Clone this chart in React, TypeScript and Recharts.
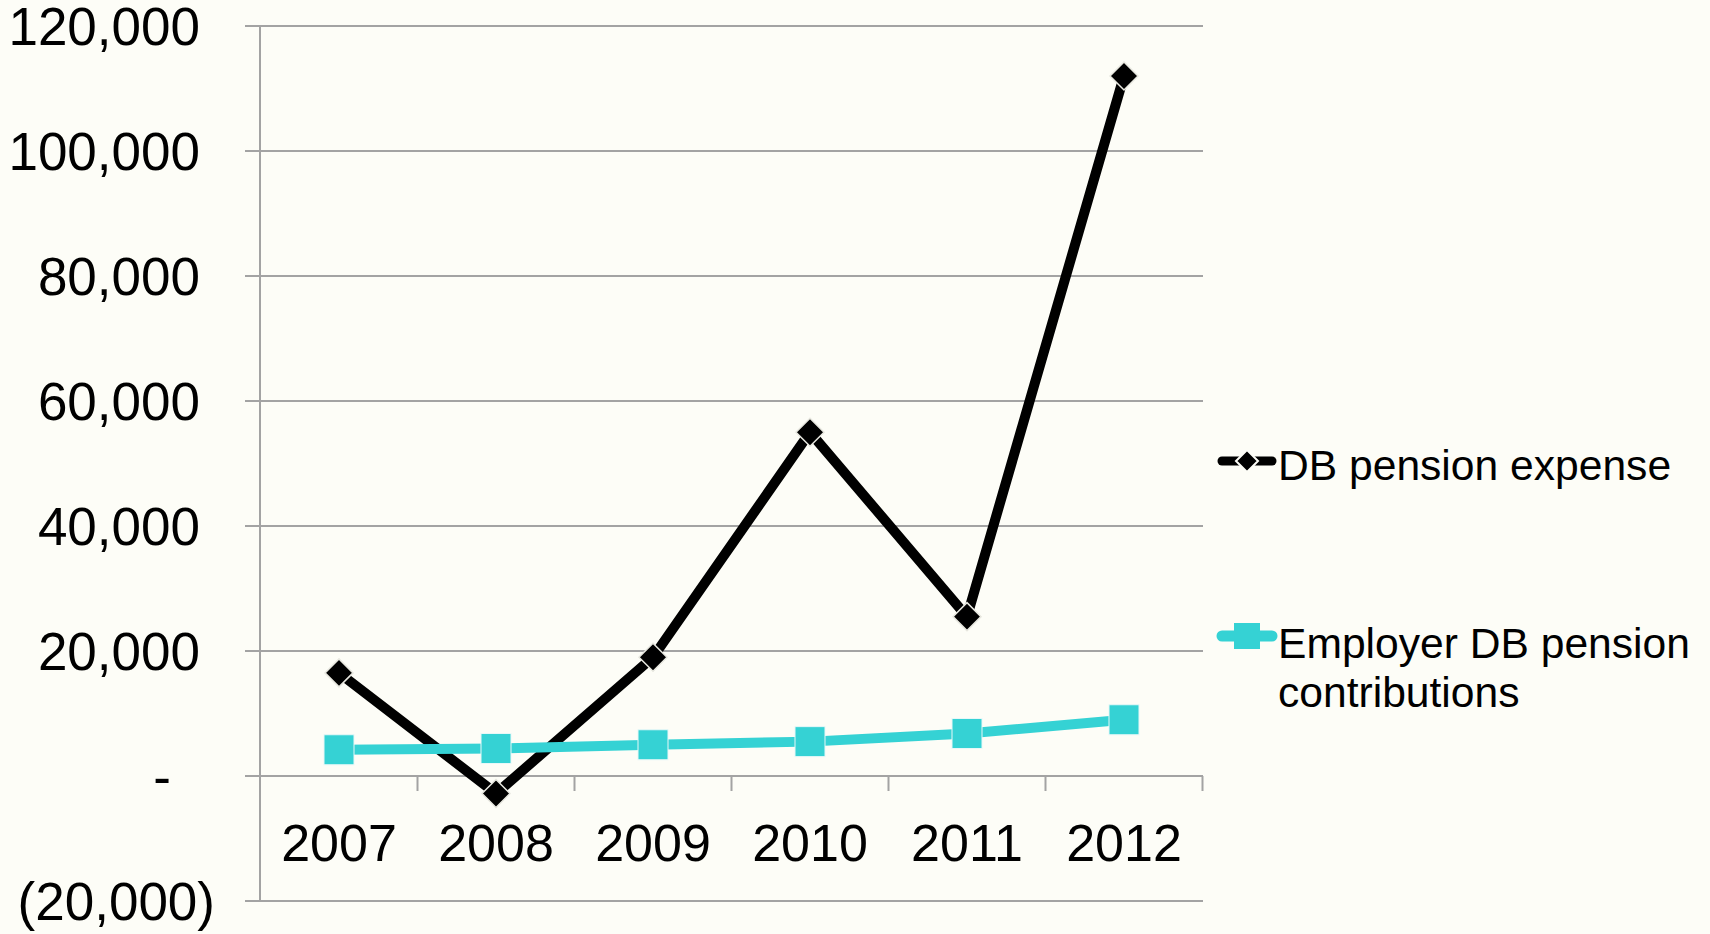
import {
  LineChart,
  Line,
  XAxis,
  YAxis,
  CartesianGrid,
  Legend,
  ReferenceLine,
} from "recharts";

const years = ["2007", "2008", "2009", "2010", "2011", "2012"];
const dbPensionExpense = [16500, -2800, 19000, 55000, 25500, 112000];
const employerContributions = [4200, 4400, 5000, 5500, 6800, 9000];
const yTicks = [-20000, 0, 20000, 40000, 60000, 80000, 100000, 120000];
// right-hand edge of each category slot, where the small tick marks hang under the zero line
const boundaryTicks = years.map((_, i) => i + 0.5);

const FONT = '"Liberation Sans", Arial, sans-serif';
const GRID = "#a3a3a3";
const CYAN = "#35d2d4";
const PAD = 79; // half a category slot

const data = years.map((year, i) => ({
  year,
  idx: i,
  expense: dbPensionExpense[i],
  contrib: employerContributions[i],
}));

// accounting style labels: 120,000 / - / (20,000)
function YTick({ x, y, payload }: any) {
  const v = payload.value as number;
  let label = v.toLocaleString("en-US");
  let dx = 0;
  if (v === 0) {
    label = "-";
    dx = -29;
  } else if (v < 0) {
    label = `(${Math.abs(v).toLocaleString("en-US")})`;
    dx = 15;
  }
  return (
    <text x={x + dx} y={y} dy={19} textAnchor="end" fontSize={53} fill="#000" fontFamily={FONT}>
      {label}
    </text>
  );
}

function XTick({ x, y, payload }: any) {
  return (
    <text x={x} y={y - 40} textAnchor="middle" fontSize={52} fill="#000" fontFamily={FONT}>
      {payload.value}
    </text>
  );
}

function Diamond({ cx, cy, index }: any) {
  if (cx == null || cy == null) return null;
  const r = 14;
  return (
    <path
      key={`dia-${index}`}
      d={`M${cx},${cy - r} L${cx + r},${cy} L${cx},${cy + r} L${cx - r},${cy} Z`}
      fill="#000"
      stroke="#e8e8e0"
      strokeWidth={1.5}
    />
  );
}

function Square({ cx, cy, index }: any) {
  if (cx == null || cy == null) return null;
  const s = 30;
  return (
    <rect
      key={`sq-${index}`}
      x={cx - s / 2}
      y={cy - s / 2}
      width={s}
      height={s}
      fill={CYAN}
      stroke="#e8f8f8"
      strokeWidth={1}
    />
  );
}

function LegendContent() {
  return (
    <div style={{ fontFamily: FONT, fontSize: 42.6, color: "#000", lineHeight: "49px" }}>
      <div style={{ display: "flex" }}>
        <svg width={64} height={49}>
          <line x1={8} y1={20} x2={58} y2={20} stroke="#000" strokeWidth={9} strokeLinecap="round" />
          <path d="M33,9 L44,20 L33,31 L22,20 Z" fill="#000" stroke="#fdfdf7" strokeWidth={2} />
        </svg>
        <div>DB pension expense</div>
      </div>
      <div style={{ display: "flex", marginTop: 129 }}>
        <svg width={64} height={49}>
          <line x1={8} y1={17} x2={58} y2={17} stroke={CYAN} strokeWidth={11} strokeLinecap="round" />
          <rect x={20} y={4} width={26} height={26} fill={CYAN} />
        </svg>
        <div>
          Employer DB pension
          <br />
          contributions
        </div>
      </div>
    </div>
  );
}

export default function App() {
  return (
    <div
      style={{
        position: "fixed",
        left: 0,
        top: 0,
        width: 1710,
        height: 934,
        background: "#fdfdf7",
      }}
    >
      <LineChart
        width={1710}
        height={934}
        data={data}
        margin={{ top: 26, right: 17, bottom: 32, left: 0 }}
      >
        <CartesianGrid vertical={false} stroke={GRID} strokeWidth={2} />
        <XAxis
          dataKey="year"
          height={1}
          padding={{ left: PAD, right: PAD }}
          axisLine={false}
          tickLine={false}
          tickSize={0}
          tickMargin={0}
          tick={<XTick />}
          interval={0}
        />
        <XAxis
          xAxisId="b"
          dataKey="idx"
          type="number"
          domain={[0, years.length - 1]}
          padding={{ left: PAD, right: PAD }}
          allowDataOverflow
          hide
        />
        <YAxis
          width={260}
          domain={[-20000, 120000]}
          ticks={yTicks}
          interval={0}
          axisLine={{ stroke: GRID, strokeWidth: 2 }}
          tickLine={{ stroke: GRID, strokeWidth: 2 }}
          tickSize={15}
          tickMargin={45}
          tick={<YTick />}
        />
        {boundaryTicks.map((b) => (
          <ReferenceLine
            key={b}
            xAxisId="b"
            ifOverflow="visible"
            segment={[
              { x: b, y: 0 },
              { x: b, y: -2400 },
            ]}
            stroke={GRID}
            strokeWidth={2}
          />
        ))}
        <Legend
          verticalAlign="top"
          align="right"
          layout="vertical"
          content={<LegendContent />}
          wrapperStyle={{ position: "absolute", left: 1214, top: 441, width: 490 }}
        />
        <Line
          dataKey="expense"
          name="DB pension expense"
          stroke="#000"
          strokeWidth={10}
          dot={(p: any) => <Diamond {...p} />}
          activeDot={false}
          isAnimationActive={false}
        />
        <Line
          dataKey="contrib"
          name="Employer DB pension contributions"
          stroke={CYAN}
          strokeWidth={10}
          dot={(p: any) => <Square {...p} />}
          activeDot={false}
          isAnimationActive={false}
        />
      </LineChart>
    </div>
  );
}
